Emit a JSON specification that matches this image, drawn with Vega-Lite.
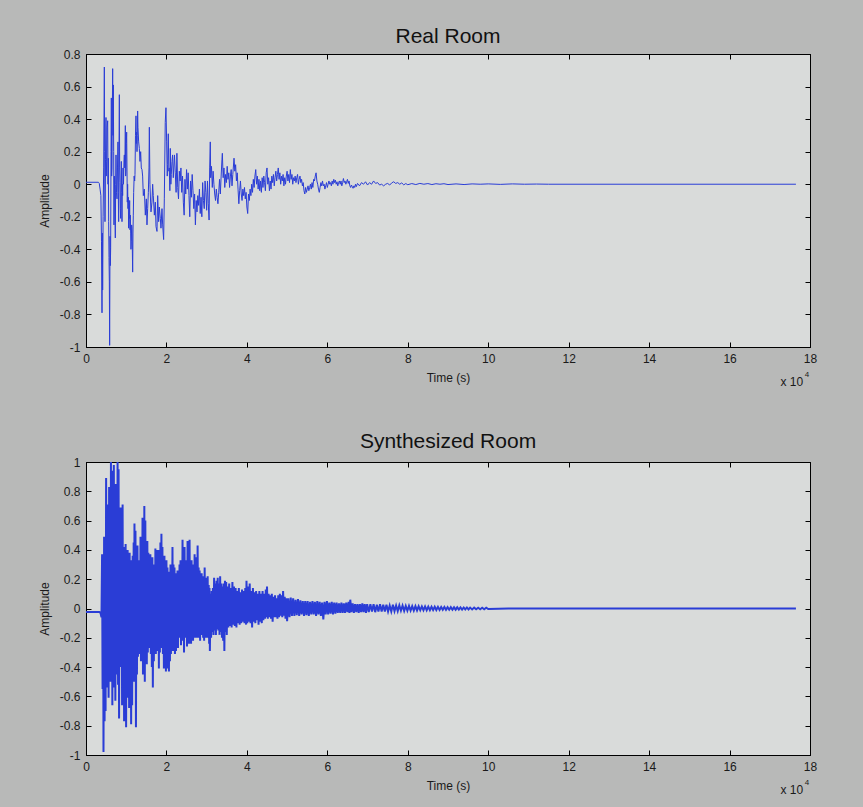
{
"$schema": "https://vega.github.io/schema/vega-lite/v6.json",
"background": "#b8b9b8",
"padding": {"left": 37, "top": 25, "right": 60, "bottom": 30},
"spacing": 115,
"bounds": "flush",
"datasets": {
"real": [
{"t":0,"a":0.012},{"t":0.31,"a":0.012},{"t":0.33,"a":0.005},{"t":0.35,"a":-0.03},{"t":0.37,"a":-0.07},{"t":0.385,"a":-0.35},{"t":0.398,"a":-0.79},{"t":0.406,"a":-0.3},{"t":0.414,"a":-0.65},{"t":0.425,"a":-0.2},{"t":0.439,"a":0.1},{"t":0.456,"a":0.72},{"t":0.464,"a":0.2},{"t":0.472,"a":-0.23},{"t":0.485,"a":0.15},{"t":0.497,"a":0.41},{"t":0.505,"a":0.05},{"t":0.514,"a":0.14},{"t":0.525,"a":0.35},{"t":0.539,"a":0.39},{"t":0.547,"a":0.0},{"t":0.555,"a":0.16},{"t":0.563,"a":-0.23},{"t":0.572,"a":-0.45},{"t":0.58,"a":-0.6},{"t":0.588,"a":-0.99},{"t":0.597,"a":-0.32},{"t":0.605,"a":-0.5},{"t":0.613,"a":-0.39},{"t":0.622,"a":0.2},{"t":0.63,"a":0.53},{"t":0.638,"a":0.05},{"t":0.646,"a":0.1},{"t":0.655,"a":0.45},{"t":0.663,"a":0.71},{"t":0.671,"a":0.3},{"t":0.679,"a":0.61},{"t":0.688,"a":0.2},{"t":0.696,"a":-0.25},{"t":0.704,"a":0.05},{"t":0.713,"a":-0.03},{"t":0.721,"a":-0.2},{"t":0.729,"a":-0.33},{"t":0.737,"a":0.0},{"t":0.746,"a":0.18},{"t":0.758,"a":-0.05},{"t":0.771,"a":-0.09},{"t":0.783,"a":0.1},{"t":0.795,"a":0.26},{"t":0.803,"a":-0.05},{"t":0.812,"a":-0.23},{"t":0.82,"a":0.2},{"t":0.829,"a":0.55},{"t":0.837,"a":0.1},{"t":0.845,"a":0.01},{"t":0.853,"a":-0.15},{"t":0.862,"a":-0.21},{"t":0.87,"a":0.0},{"t":0.878,"a":0.14},{"t":0.887,"a":-0.05},{"t":0.895,"a":-0.23},{"t":0.903,"a":0.0},{"t":0.911,"a":-0.07},{"t":0.92,"a":0.1},{"t":0.932,"a":0.0},{"t":0.945,"a":0.15},{"t":0.953,"a":0.18},{"t":0.965,"a":0.1},{"t":0.978,"a":0.36},{"t":0.986,"a":0.05},{"t":0.994,"a":0.08},{"t":1.003,"a":0.25},{"t":1.011,"a":0.32},{"t":1.019,"a":0.1},{"t":1.027,"a":-0.11},{"t":1.035,"a":0.0},{"t":1.044,"a":-0.15},{"t":1.052,"a":-0.08},{"t":1.06,"a":-0.27},{"t":1.068,"a":-0.2},{"t":1.077,"a":-0.21},{"t":1.085,"a":-0.1},{"t":1.094,"a":-0.28},{"t":1.102,"a":-0.19},{"t":1.11,"a":-0.3},{"t":1.118,"a":-0.4},{"t":1.127,"a":-0.35},{"t":1.135,"a":-0.25},{"t":1.143,"a":-0.27},{"t":1.152,"a":-0.4},{"t":1.16,"a":-0.54},{"t":1.168,"a":-0.3},{"t":1.176,"a":-0.19},{"t":1.185,"a":-0.05},{"t":1.197,"a":0.05},{"t":1.21,"a":0.02},{"t":1.218,"a":0.06},{"t":1.23,"a":0.3},{"t":1.243,"a":0.42},{"t":1.251,"a":0.25},{"t":1.259,"a":0.32},{"t":1.268,"a":0.2},{"t":1.276,"a":0.3},{"t":1.284,"a":0.45},{"t":1.292,"a":0.35},{"t":1.309,"a":0.26},{"t":1.326,"a":0.22},{"t":1.342,"a":0.14},{"t":1.359,"a":0.2},{"t":1.375,"a":0.1},{"t":1.392,"a":0.09},{"t":1.408,"a":0.05},{"t":1.425,"a":-0.07},{"t":1.45,"a":-0.03},{"t":1.475,"a":-0.19},{"t":1.5,"a":-0.09},{"t":1.516,"a":-0.25},{"t":1.533,"a":-0.15},{"t":1.55,"a":-0.05},{"t":1.566,"a":0.1},{"t":1.575,"a":0.35},{"t":1.59,"a":0.0},{"t":1.616,"a":-0.17},{"t":1.64,"a":-0.11},{"t":1.657,"a":0.0},{"t":1.673,"a":-0.07},{"t":1.7,"a":-0.19},{"t":1.723,"a":-0.11},{"t":1.74,"a":-0.26},{"t":1.765,"a":-0.29},{"t":1.782,"a":-0.07},{"t":1.806,"a":-0.23},{"t":1.823,"a":-0.14},{"t":1.848,"a":-0.21},{"t":1.864,"a":-0.27},{"t":1.889,"a":-0.15},{"t":1.906,"a":-0.25},{"t":1.93,"a":-0.34},{"t":1.947,"a":-0.09},{"t":1.97,"a":0.38},{"t":1.988,"a":0.47},{"t":2.005,"a":0.26},{"t":2.02,"a":0.05},{"t":2.03,"a":0.12},{"t":2.046,"a":0.31},{"t":2.06,"a":0.08},{"t":2.07,"a":0.1},{"t":2.085,"a":-0.04},{"t":2.096,"a":0.22},{"t":2.11,"a":0.0},{"t":2.12,"a":0.06},{"t":2.137,"a":0.14},{"t":2.153,"a":0.18},{"t":2.17,"a":0.04},{"t":2.2,"a":0.18},{"t":2.22,"a":0.07},{"t":2.24,"a":-0.05},{"t":2.26,"a":0.19},{"t":2.28,"a":-0.02},{"t":2.3,"a":-0.09},{"t":2.32,"a":0.08},{"t":2.34,"a":0.02},{"t":2.36,"a":0.1},{"t":2.38,"a":-0.05},{"t":2.4,"a":0.05},{"t":2.42,"a":-0.11},{"t":2.44,"a":-0.19},{"t":2.46,"a":0.03},{"t":2.48,"a":-0.06},{"t":2.5,"a":0.09},{"t":2.52,"a":-0.03},{"t":2.54,"a":0.07},{"t":2.56,"a":-0.07},{"t":2.58,"a":-0.2},{"t":2.6,"a":0.02},{"t":2.62,"a":-0.08},{"t":2.64,"a":0.06},{"t":2.66,"a":-0.04},{"t":2.68,"a":-0.15},{"t":2.7,"a":-0.06},{"t":2.72,"a":-0.25},{"t":2.74,"a":-0.1},{"t":2.76,"a":-0.17},{"t":2.78,"a":-0.07},{"t":2.8,"a":-0.13},{"t":2.82,"a":-0.03},{"t":2.84,"a":-0.18},{"t":2.86,"a":-0.08},{"t":2.88,"a":-0.2},{"t":2.9,"a":0.01},{"t":2.92,"a":-0.1},{"t":2.94,"a":-0.15},{"t":2.96,"a":0.02},{"t":2.98,"a":-0.05},{"t":3.0,"a":-0.16},{"t":3.02,"a":0.02},{"t":3.04,"a":-0.12},{"t":3.06,"a":-0.22},{"t":3.075,"a":0.1},{"t":3.09,"a":0.26},{"t":3.1,"a":0.04},{"t":3.12,"a":0.11},{"t":3.14,"a":-0.02},{"t":3.16,"a":0.08},{"t":3.18,"a":0.0},{"t":3.2,"a":-0.06},{"t":3.22,"a":-0.1},{"t":3.24,"a":-0.03},{"t":3.26,"a":-0.08},{"t":3.28,"a":-0.12},{"t":3.3,"a":-0.05},{"t":3.32,"a":0.03},{"t":3.34,"a":-0.06},{"t":3.36,"a":0.05},{"t":3.38,"a":0.15},{"t":3.39,"a":0.19},{"t":3.41,"a":0.04},{"t":3.43,"a":0.1},{"t":3.45,"a":-0.02},{"t":3.47,"a":0.06},{"t":3.49,"a":0.01},{"t":3.51,"a":0.11},{"t":3.53,"a":0.03},{"t":3.55,"a":0.07},{"t":3.57,"a":-0.02},{"t":3.59,"a":0.05},{"t":3.61,"a":0.09},{"t":3.63,"a":-0.01},{"t":3.65,"a":0.06},{"t":3.68,"a":0.16},{"t":3.7,"a":0.08},{"t":3.72,"a":0.12},{"t":3.74,"a":0.02},{"t":3.76,"a":0.07},{"t":3.78,"a":-0.03},{"t":3.8,"a":-0.12},{"t":3.82,"a":-0.04},{"t":3.84,"a":0.02},{"t":3.86,"a":-0.06},{"t":3.88,"a":-0.1},{"t":3.9,"a":-0.03},{"t":3.92,"a":-0.07},{"t":3.94,"a":-0.02},{"t":3.96,"a":-0.09},{"t":3.98,"a":-0.05},{"t":4.0,"a":-0.14},{"t":4.02,"a":-0.18},{"t":4.04,"a":-0.06},{"t":4.06,"a":-0.1},{"t":4.08,"a":-0.03},{"t":4.1,"a":-0.07},{"t":4.12,"a":0.0},{"t":4.14,"a":-0.05},{"t":4.16,"a":0.03},{"t":4.18,"a":-0.02},{"t":4.2,"a":0.05},{"t":4.22,"a":0.09},{"t":4.24,"a":0.0},{"t":4.26,"a":0.05},{"t":4.28,"a":-0.03},{"t":4.3,"a":0.03},{"t":4.32,"a":-0.04},{"t":4.34,"a":0.02},{"t":4.36,"a":-0.05},{"t":4.38,"a":0.04},{"t":4.4,"a":-0.02},{"t":4.42,"a":0.05},{"t":4.44,"a":0.01},{"t":4.46,"a":-0.04},{"t":4.48,"a":0.07},{"t":4.5,"a":0.1},{"t":4.52,"a":0.0},{"t":4.54,"a":0.04},{"t":4.56,"a":-0.04},{"t":4.58,"a":0.02},{"t":4.6,"a":-0.03},{"t":4.62,"a":0.05},{"t":4.64,"a":0.01},{"t":4.66,"a":0.06},{"t":4.68,"a":-0.01},{"t":4.7,"a":0.04},{"t":4.72,"a":0.08},{"t":4.74,"a":0.02},{"t":4.76,"a":0.06},{"t":4.78,"a":0.1},{"t":4.8,"a":0.03},{"t":4.82,"a":0.07},{"t":4.84,"a":0.0},{"t":4.86,"a":0.05},{"t":4.88,"a":0.02},{"t":4.9,"a":0.06},{"t":4.92,"a":-0.01},{"t":4.94,"a":0.04},{"t":4.96,"a":0.0},{"t":4.98,"a":0.05},{"t":5.0,"a":0.08},{"t":5.02,"a":0.02},{"t":5.04,"a":0.06},{"t":5.06,"a":0.01},{"t":5.08,"a":0.09},{"t":5.1,"a":0.03},{"t":5.12,"a":0.06},{"t":5.14,"a":0.0},{"t":5.16,"a":0.04},{"t":5.18,"a":0.02},{"t":5.2,"a":0.05},{"t":5.22,"a":0.01},{"t":5.24,"a":0.04},{"t":5.26,"a":0.06},{"t":5.28,"a":0.0},{"t":5.3,"a":0.03},{"t":5.32,"a":0.05},{"t":5.34,"a":0.01},{"t":5.36,"a":0.03},{"t":5.38,"a":-0.01},{"t":5.4,"a":0.01},{"t":5.42,"a":-0.04},{"t":5.44,"a":-0.06},{"t":5.46,"a":-0.02},{"t":5.48,"a":-0.05},{"t":5.5,"a":-0.03},{"t":5.52,"a":-0.01},{"t":5.54,"a":-0.04},{"t":5.56,"a":-0.02},{"t":5.58,"a":0.0},{"t":5.6,"a":-0.03},{"t":5.62,"a":0.01},{"t":5.64,"a":-0.02},{"t":5.66,"a":0.03},{"t":5.68,"a":0.02},{"t":5.7,"a":0.05},{"t":5.72,"a":0.07},{"t":5.74,"a":0.02},{"t":5.76,"a":0.0},{"t":5.78,"a":-0.03},{"t":5.8,"a":-0.05},{"t":5.82,"a":-0.02},{"t":5.84,"a":0.01},{"t":5.86,"a":-0.01},{"t":5.88,"a":0.02},{"t":5.9,"a":-0.01},{"t":5.92,"a":0.0},{"t":5.94,"a":-0.03},{"t":5.96,"a":-0.01},{"t":5.98,"a":0.01},{"t":6.0,"a":-0.02},{"t":6.02,"a":0.0},{"t":6.04,"a":0.02},{"t":6.06,"a":0.0},{"t":6.08,"a":0.01},{"t":6.1,"a":-0.01},{"t":6.12,"a":0.02},{"t":6.14,"a":0.0},{"t":6.16,"a":0.03},{"t":6.18,"a":0.01},{"t":6.2,"a":0.025},{"t":6.22,"a":0.0},{"t":6.24,"a":0.015},{"t":6.26,"a":-0.01},{"t":6.28,"a":0.01},{"t":6.3,"a":0.02},{"t":6.32,"a":0.0},{"t":6.34,"a":0.02},{"t":6.36,"a":-0.01},{"t":6.38,"a":0.01},{"t":6.4,"a":0.035},{"t":6.42,"a":0.01},{"t":6.44,"a":0.02},{"t":6.46,"a":0.0},{"t":6.48,"a":0.015},{"t":6.5,"a":0.03},{"t":6.52,"a":0.005},{"t":6.54,"a":0.02},{"t":6.56,"a":-0.01},{"t":6.58,"a":-0.02},{"t":6.6,"a":-0.005},{"t":6.62,"a":-0.015},{"t":6.64,"a":-0.025},{"t":6.66,"a":-0.01},{"t":6.68,"a":-0.02},{"t":6.7,"a":0.0},{"t":6.72,"a":-0.015},{"t":6.75,"a":0.005},{"t":6.8,"a":-0.01},{"t":6.85,"a":0.01},{"t":6.9,"a":0.0},{"t":6.95,"a":0.015},{"t":7.0,"a":-0.005},{"t":7.05,"a":0.01},{"t":7.1,"a":0.0},{"t":7.15,"a":0.02},{"t":7.2,"a":0.005},{"t":7.25,"a":0.01},{"t":7.3,"a":-0.005},{"t":7.35,"a":0.0},{"t":7.4,"a":-0.01},{"t":7.45,"a":0.0},{"t":7.5,"a":0.005},{"t":7.55,"a":-0.005},{"t":7.6,"a":0.008},{"t":7.65,"a":0.015},{"t":7.7,"a":0.005},{"t":7.75,"a":0.01},{"t":7.8,"a":0.0},{"t":7.85,"a":0.008},{"t":7.9,"a":-0.004},{"t":7.95,"a":0.004},{"t":8.0,"a":-0.003},{"t":8.1,"a":0.004},{"t":8.2,"a":-0.002},{"t":8.3,"a":0.005},{"t":8.4,"a":0.0},{"t":8.5,"a":0.004},{"t":8.6,"a":-0.002},{"t":8.7,"a":0.003},{"t":8.8,"a":0.0},{"t":8.9,"a":0.003},{"t":9.0,"a":-0.002},{"t":9.2,"a":0.002},{"t":9.4,"a":-0.002},{"t":9.6,"a":0.002},{"t":9.8,"a":0.0},{"t":10.0,"a":0.002},{"t":10.3,"a":-0.001},{"t":10.6,"a":0.002},{"t":10.9,"a":0.0},{"t":11.2,"a":0.001},{"t":11.5,"a":0.0},{"t":17.65,"a":0.0}
],
"synth": [
{"t":0,"a":-0.024},{"t":0.33,"a":-0.024},{"t":0.36,"a":-0.03},{"t":0.385,"a":-0.06},{"t":0.4,"a":0.37},{"t":0.412,"a":-0.55},{"t":0.425,"a":0.3},{"t":0.435,"a":-0.98},{"t":0.45,"a":0.49},{"t":0.462,"a":-0.77},{"t":0.475,"a":0.44},{"t":0.487,"a":-0.7},{"t":0.5,"a":0.89},{"t":0.512,"a":-0.42},{"t":0.525,"a":0.71},{"t":0.537,"a":-0.54},{"t":0.55,"a":0.52},{"t":0.562,"a":-0.61},{"t":0.575,"a":0.83},{"t":0.587,"a":-0.38},{"t":0.6,"a":0.68},{"t":0.612,"a":-0.5},{"t":0.62,"a":1.0},{"t":0.63,"a":-0.44},{"t":0.642,"a":0.76},{"t":0.655,"a":-0.66},{"t":0.667,"a":0.94},{"t":0.68,"a":-0.41},{"t":0.692,"a":0.98},{"t":0.705,"a":-0.54},{"t":0.717,"a":0.62},{"t":0.73,"a":-0.63},{"t":0.742,"a":0.85},{"t":0.755,"a":-0.36},{"t":0.767,"a":0.7},{"t":0.777,"a":-0.45},{"t":0.785,"a":1.0},{"t":0.797,"a":-0.52},{"t":0.81,"a":0.95},{"t":0.822,"a":-0.75},{"t":0.835,"a":0.58},{"t":0.847,"a":-0.4},{"t":0.86,"a":0.69},{"t":0.872,"a":-0.36},{"t":0.885,"a":0.5},{"t":0.897,"a":-0.66},{"t":0.91,"a":0.71},{"t":0.922,"a":-0.48},{"t":0.935,"a":0.42},{"t":0.947,"a":-0.77},{"t":0.96,"a":0.35},{"t":0.972,"a":-0.55},{"t":0.985,"a":0.44},{"t":0.997,"a":-0.81},{"t":1.01,"a":0.3},{"t":1.022,"a":-0.61},{"t":1.035,"a":0.4},{"t":1.047,"a":-0.45},{"t":1.06,"a":0.32},{"t":1.072,"a":-0.68},{"t":1.085,"a":0.38},{"t":1.097,"a":-0.5},{"t":1.11,"a":0.33},{"t":1.122,"a":-0.79},{"t":1.135,"a":0.25},{"t":1.147,"a":-0.66},{"t":1.16,"a":0.36},{"t":1.172,"a":-0.42},{"t":1.185,"a":0.45},{"t":1.197,"a":-0.5},{"t":1.205,"a":0.58},{"t":1.217,"a":-0.4},{"t":1.23,"a":0.53},{"t":1.242,"a":-0.81},{"t":1.255,"a":0.35},{"t":1.267,"a":-0.45},{"t":1.28,"a":0.43},{"t":1.292,"a":-0.33},{"t":1.305,"a":0.28},{"t":1.317,"a":-0.31},{"t":1.33,"a":0.33},{"t":1.342,"a":-0.25},{"t":1.355,"a":0.49},{"t":1.367,"a":-0.36},{"t":1.38,"a":0.41},{"t":1.392,"a":-0.3},{"t":1.405,"a":0.62},{"t":1.417,"a":-0.45},{"t":1.43,"a":0.5},{"t":1.442,"a":-0.38},{"t":1.45,"a":0.7},{"t":1.462,"a":-0.5},{"t":1.475,"a":0.6},{"t":1.487,"a":-0.31},{"t":1.5,"a":0.45},{"t":1.512,"a":-0.38},{"t":1.525,"a":0.46},{"t":1.537,"a":-0.3},{"t":1.55,"a":0.38},{"t":1.562,"a":-0.27},{"t":1.575,"a":0.33},{"t":1.587,"a":-0.22},{"t":1.6,"a":0.37},{"t":1.612,"a":-0.31},{"t":1.625,"a":0.3},{"t":1.637,"a":-0.4},{"t":1.65,"a":0.35},{"t":1.662,"a":-0.54},{"t":1.675,"a":0.27},{"t":1.687,"a":-0.36},{"t":1.7,"a":0.3},{"t":1.712,"a":-0.28},{"t":1.725,"a":0.41},{"t":1.737,"a":-0.31},{"t":1.75,"a":0.35},{"t":1.762,"a":-0.24},{"t":1.775,"a":0.4},{"t":1.787,"a":-0.29},{"t":1.8,"a":0.33},{"t":1.812,"a":-0.41},{"t":1.825,"a":0.4},{"t":1.837,"a":-0.3},{"t":1.85,"a":0.45},{"t":1.862,"a":-0.27},{"t":1.875,"a":0.51},{"t":1.887,"a":-0.25},{"t":1.9,"a":0.42},{"t":1.912,"a":-0.31},{"t":1.925,"a":0.32},{"t":1.937,"a":-0.41},{"t":1.95,"a":0.36},{"t":1.962,"a":-0.35},{"t":1.975,"a":0.3},{"t":1.987,"a":-0.43},{"t":2.0,"a":0.33},{"t":2.012,"a":-0.38},{"t":2.025,"a":0.28},{"t":2.037,"a":-0.41},{"t":2.05,"a":0.25},{"t":2.062,"a":-0.43},{"t":2.075,"a":0.21},{"t":2.087,"a":-0.36},{"t":2.1,"a":0.3},{"t":2.112,"a":-0.31},{"t":2.125,"a":0.27},{"t":2.137,"a":-0.26},{"t":2.15,"a":0.42},{"t":2.162,"a":-0.29},{"t":2.175,"a":0.3},{"t":2.187,"a":-0.22},{"t":2.2,"a":0.28},{"t":2.212,"a":-0.31},{"t":2.225,"a":0.19},{"t":2.237,"a":-0.29},{"t":2.25,"a":0.24},{"t":2.262,"a":-0.2},{"t":2.275,"a":0.26},{"t":2.287,"a":-0.27},{"t":2.3,"a":0.22},{"t":2.312,"a":-0.2},{"t":2.325,"a":0.3},{"t":2.337,"a":-0.18},{"t":2.35,"a":0.33},{"t":2.362,"a":-0.25},{"t":2.375,"a":0.28},{"t":2.387,"a":-0.2},{"t":2.4,"a":0.47},{"t":2.412,"a":-0.22},{"t":2.425,"a":0.35},{"t":2.437,"a":-0.3},{"t":2.45,"a":0.42},{"t":2.462,"a":-0.15},{"t":2.475,"a":0.3},{"t":2.487,"a":-0.2},{"t":2.5,"a":0.33},{"t":2.512,"a":-0.26},{"t":2.525,"a":0.46},{"t":2.537,"a":-0.18},{"t":2.55,"a":0.36},{"t":2.562,"a":-0.24},{"t":2.575,"a":0.47},{"t":2.587,"a":-0.2},{"t":2.6,"a":0.3},{"t":2.612,"a":-0.24},{"t":2.625,"a":0.33},{"t":2.637,"a":-0.18},{"t":2.65,"a":0.28},{"t":2.662,"a":-0.22},{"t":2.675,"a":0.3},{"t":2.687,"a":-0.15},{"t":2.7,"a":0.37},{"t":2.712,"a":-0.2},{"t":2.725,"a":0.35},{"t":2.737,"a":-0.17},{"t":2.75,"a":0.3},{"t":2.762,"a":-0.2},{"t":2.775,"a":0.43},{"t":2.787,"a":-0.15},{"t":2.8,"a":0.28},{"t":2.812,"a":-0.2},{"t":2.825,"a":0.26},{"t":2.837,"a":-0.22},{"t":2.85,"a":0.21},{"t":2.862,"a":-0.15},{"t":2.875,"a":0.24},{"t":2.887,"a":-0.18},{"t":2.9,"a":0.19},{"t":2.912,"a":-0.2},{"t":2.925,"a":0.22},{"t":2.937,"a":-0.22},{"t":2.95,"a":0.28},{"t":2.962,"a":-0.16},{"t":2.975,"a":0.21},{"t":2.987,"a":-0.2},{"t":3.0,"a":0.18},{"t":3.012,"a":-0.15},{"t":3.025,"a":0.22},{"t":3.037,"a":-0.2},{"t":3.05,"a":0.16},{"t":3.062,"a":-0.24},{"t":3.07,"a":0.14},{"t":3.08,"a":-0.29},{"t":3.095,"a":0.1},{"t":3.11,"a":-0.2},{"t":3.125,"a":0.12},{"t":3.14,"a":-0.16},{"t":3.155,"a":0.14},{"t":3.17,"a":-0.18},{"t":3.185,"a":0.21},{"t":3.2,"a":-0.15},{"t":3.215,"a":0.17},{"t":3.23,"a":-0.18},{"t":3.245,"a":0.19},{"t":3.26,"a":-0.14},{"t":3.275,"a":0.21},{"t":3.29,"a":-0.15},{"t":3.305,"a":0.17},{"t":3.32,"a":-0.18},{"t":3.335,"a":0.22},{"t":3.35,"a":-0.16},{"t":3.365,"a":0.17},{"t":3.38,"a":-0.2},{"t":3.395,"a":0.15},{"t":3.41,"a":-0.22},{"t":3.425,"a":0.17},{"t":3.44,"a":-0.29},{"t":3.455,"a":0.19},{"t":3.47,"a":-0.16},{"t":3.485,"a":0.18},{"t":3.5,"a":-0.18},{"t":3.52,"a":0.15},{"t":3.54,"a":-0.13},{"t":3.56,"a":0.17},{"t":3.58,"a":-0.12},{"t":3.6,"a":0.14},{"t":3.62,"a":-0.13},{"t":3.64,"a":0.18},{"t":3.66,"a":-0.11},{"t":3.68,"a":0.15},{"t":3.7,"a":-0.12},{"t":3.72,"a":0.14},{"t":3.74,"a":-0.13},{"t":3.76,"a":0.12},{"t":3.78,"a":-0.1},{"t":3.8,"a":0.14},{"t":3.82,"a":-0.11},{"t":3.84,"a":0.11},{"t":3.86,"a":-0.1},{"t":3.88,"a":0.13},{"t":3.9,"a":-0.09},{"t":3.92,"a":0.12},{"t":3.94,"a":-0.1},{"t":3.96,"a":0.14},{"t":3.98,"a":-0.11},{"t":3.99,"a":0.19},{"t":4.01,"a":-0.1},{"t":4.03,"a":0.15},{"t":4.05,"a":-0.09},{"t":4.07,"a":0.17},{"t":4.09,"a":-0.1},{"t":4.11,"a":0.12},{"t":4.13,"a":-0.13},{"t":4.15,"a":0.14},{"t":4.17,"a":-0.09},{"t":4.19,"a":0.11},{"t":4.21,"a":-0.1},{"t":4.23,"a":0.12},{"t":4.25,"a":-0.08},{"t":4.27,"a":0.1},{"t":4.29,"a":-0.11},{"t":4.31,"a":0.12},{"t":4.33,"a":-0.09},{"t":4.35,"a":0.1},{"t":4.37,"a":-0.1},{"t":4.39,"a":0.12},{"t":4.41,"a":-0.08},{"t":4.43,"a":0.1},{"t":4.45,"a":-0.07},{"t":4.47,"a":0.13},{"t":4.49,"a":-0.06},{"t":4.5,"a":0.15},{"t":4.52,"a":-0.07},{"t":4.54,"a":0.1},{"t":4.56,"a":-0.06},{"t":4.58,"a":0.09},{"t":4.6,"a":-0.07},{"t":4.62,"a":0.1},{"t":4.64,"a":-0.09},{"t":4.66,"a":0.08},{"t":4.68,"a":-0.06},{"t":4.7,"a":0.09},{"t":4.72,"a":-0.06},{"t":4.74,"a":0.07},{"t":4.76,"a":-0.07},{"t":4.78,"a":0.09},{"t":4.8,"a":-0.06},{"t":4.82,"a":0.1},{"t":4.84,"a":-0.05},{"t":4.86,"a":0.09},{"t":4.88,"a":-0.06},{"t":4.9,"a":0.12},{"t":4.92,"a":-0.05},{"t":4.94,"a":0.08},{"t":4.96,"a":-0.07},{"t":4.98,"a":0.07},{"t":5.0,"a":-0.086},{"t":5.03,"a":0.07},{"t":5.06,"a":-0.06},{"t":5.09,"a":0.075},{"t":5.12,"a":-0.05},{"t":5.15,"a":0.07},{"t":5.18,"a":-0.05},{"t":5.21,"a":0.06},{"t":5.24,"a":-0.045},{"t":5.27,"a":0.065},{"t":5.3,"a":-0.05},{"t":5.33,"a":0.055},{"t":5.36,"a":-0.04},{"t":5.39,"a":0.05},{"t":5.42,"a":-0.05},{"t":5.45,"a":0.05},{"t":5.48,"a":-0.045},{"t":5.51,"a":0.05},{"t":5.54,"a":-0.05},{"t":5.57,"a":0.045},{"t":5.6,"a":-0.04},{"t":5.63,"a":0.05},{"t":5.66,"a":-0.04},{"t":5.69,"a":0.045},{"t":5.72,"a":-0.05},{"t":5.75,"a":0.05},{"t":5.78,"a":-0.04},{"t":5.81,"a":0.045},{"t":5.84,"a":-0.05},{"t":5.87,"a":0.04},{"t":5.9,"a":-0.074},{"t":5.93,"a":0.045},{"t":5.96,"a":-0.04},{"t":5.99,"a":0.05},{"t":6.02,"a":-0.04},{"t":6.05,"a":0.04},{"t":6.08,"a":-0.035},{"t":6.11,"a":0.045},{"t":6.14,"a":-0.04},{"t":6.17,"a":0.04},{"t":6.2,"a":-0.035},{"t":6.23,"a":0.04},{"t":6.26,"a":-0.03},{"t":6.29,"a":0.035},{"t":6.32,"a":-0.03},{"t":6.35,"a":0.04},{"t":6.38,"a":-0.03},{"t":6.41,"a":0.035},{"t":6.44,"a":-0.03},{"t":6.47,"a":0.04},{"t":6.5,"a":-0.025},{"t":6.53,"a":0.045},{"t":6.55,"a":-0.03},{"t":6.57,"a":0.06},{"t":6.6,"a":-0.025},{"t":6.63,"a":0.035},{"t":6.66,"a":-0.03},{"t":6.69,"a":0.03},{"t":6.72,"a":-0.025},{"t":6.75,"a":0.03},{"t":6.78,"a":-0.03},{"t":6.81,"a":0.03},{"t":6.84,"a":-0.025},{"t":6.87,"a":0.035},{"t":6.9,"a":-0.025},{"t":6.93,"a":0.03},{"t":6.96,"a":-0.03},{"t":6.99,"a":0.03},{"t":7.03,"a":-0.025},{"t":7.07,"a":0.03},{"t":7.11,"a":-0.02},{"t":7.15,"a":0.03},{"t":7.19,"a":-0.025},{"t":7.23,"a":0.025},{"t":7.27,"a":-0.02},{"t":7.31,"a":0.03},{"t":7.35,"a":-0.02},{"t":7.39,"a":0.025},{"t":7.43,"a":-0.02},{"t":7.47,"a":0.025},{"t":7.51,"a":-0.02},{"t":7.55,"a":0.02},{"t":7.59,"a":-0.02},{"t":7.63,"a":0.025},{"t":7.67,"a":-0.018},{"t":7.71,"a":0.02},{"t":7.75,"a":-0.018},{"t":7.79,"a":0.022},{"t":7.83,"a":-0.015},{"t":7.87,"a":0.02},{"t":7.91,"a":-0.016},{"t":7.95,"a":0.018},{"t":7.99,"a":-0.015},{"t":8.03,"a":0.018},{"t":8.07,"a":-0.014},{"t":8.11,"a":0.016},{"t":8.15,"a":-0.014},{"t":8.19,"a":0.016},{"t":8.23,"a":-0.013},{"t":8.27,"a":0.015},{"t":8.31,"a":-0.012},{"t":8.35,"a":0.014},{"t":8.39,"a":-0.012},{"t":8.43,"a":0.014},{"t":8.47,"a":-0.012},{"t":8.51,"a":0.013},{"t":8.55,"a":-0.011},{"t":8.59,"a":0.012},{"t":8.63,"a":-0.01},{"t":8.67,"a":0.012},{"t":8.71,"a":-0.01},{"t":8.75,"a":0.011},{"t":8.79,"a":-0.01},{"t":8.83,"a":0.01},{"t":8.87,"a":-0.009},{"t":8.91,"a":0.01},{"t":8.95,"a":-0.009},{"t":8.99,"a":0.009},{"t":9.03,"a":-0.008},{"t":9.07,"a":0.009},{"t":9.11,"a":-0.008},{"t":9.15,"a":0.008},{"t":9.19,"a":-0.008},{"t":9.23,"a":0.008},{"t":9.27,"a":-0.007},{"t":9.31,"a":0.007},{"t":9.35,"a":-0.007},{"t":9.39,"a":0.007},{"t":9.43,"a":-0.006},{"t":9.47,"a":0.007},{"t":9.51,"a":-0.006},{"t":9.55,"a":0.006},{"t":9.6,"a":-0.006},{"t":9.65,"a":0.006},{"t":9.7,"a":-0.005},{"t":9.75,"a":0.005},{"t":9.8,"a":-0.005},{"t":9.85,"a":0.005},{"t":9.9,"a":-0.005},{"t":9.95,"a":0.005},{"t":10.0,"a":-0.004},{"t":10.5,"a":0.0},{"t":17.65,"a":0.0}
]
},
"vconcat": [
{
"width": 724, "height": 293,
"title": {"text": "Real Room", "offset": 1},
"layer": [
{"data": {"name": "real"},
"mark": {"type": "line", "color": "#2a3dd6", "strokeWidth": 1},
"encoding": {
"x": {"field": "t", "type": "quantitative", "scale": {"domain": [0, 18], "nice": false, "zero": false}, "axis": {"orient": "bottom", "title": "Time (s)", "values": [0,2,4,6,8,10,12,14,16,18]}},
"y": {"field": "a", "type": "quantitative", "scale": {"domain": [-1, 0.8], "nice": false, "zero": false}, "axis": {"orient": "left", "title": "Amplitude", "values": [-1,-0.8,-0.6,-0.4,-0.2,0,0.2,0.4,0.6,0.8], "labelExpr": "replace(format(datum.value, '~g'), '\u2212', '-')"}}
}},
{"data": {"values": [{"s": "x 10"}]},
"mark": {"type": "text", "align": "right", "baseline": "alphabetic", "fontSize": 12, "font": "Liberation Sans", "color": "#1a1a1a"},
"encoding": {
"text": {"field": "s"},
"x": {"datum": 17.83, "type": "quantitative", "scale": {"domain": [0, 18], "nice": false, "zero": false}, "axis": {"orient": "top", "labels": false, "title": null, "values": [0,2,4,6,8,10,12,14,16,18]}},
"y": {"datum": -1.237, "type": "quantitative", "scale": {"domain": [-1, 0.8], "nice": false, "zero": false}, "axis": {"orient": "right", "labels": false, "title": null, "values": [-1,-0.8,-0.6,-0.4,-0.2,0,0.2,0.4,0.6,0.8]}}
}},
{"data": {"values": [{"s": "4"}]},
"mark": {"type": "text", "align": "left", "baseline": "alphabetic", "fontSize": 8, "font": "Liberation Sans", "color": "#1a1a1a"},
"encoding": {
"text": {"field": "s"},
"x": {"datum": 17.87, "type": "quantitative", "scale": {"domain": [0, 18], "nice": false, "zero": false}, "axis": null},
"y": {"datum": -1.184, "type": "quantitative", "scale": {"domain": [-1, 0.8], "nice": false, "zero": false}, "axis": null}
}}
],
"resolve": {"axis": {"x": "independent", "y": "independent"}}
},
{
"width": 724, "height": 293,
"title": {"text": "Synthesized Room", "offset": 4},
"layer": [
{"data": {"name": "synth"},
"mark": {"type": "line", "color": "#2a3dd6", "strokeWidth": 2},
"encoding": {
"x": {"field": "t", "type": "quantitative", "scale": {"domain": [0, 18], "nice": false, "zero": false}, "axis": {"orient": "bottom", "title": "Time (s)", "values": [0,2,4,6,8,10,12,14,16,18]}},
"y": {"field": "a", "type": "quantitative", "scale": {"domain": [-1, 1], "nice": false, "zero": false}, "axis": {"orient": "left", "title": "Amplitude", "values": [-1,-0.8,-0.6,-0.4,-0.2,0,0.2,0.4,0.6,0.8,1], "labelExpr": "replace(format(datum.value, '~g'), '\u2212', '-')"}}
}},
{"data": {"values": [{"s": "x 10"}]},
"mark": {"type": "text", "align": "right", "baseline": "alphabetic", "fontSize": 12, "font": "Liberation Sans", "color": "#1a1a1a"},
"encoding": {
"text": {"field": "s"},
"x": {"datum": 17.83, "type": "quantitative", "scale": {"domain": [0, 18], "nice": false, "zero": false}, "axis": {"orient": "top", "labels": false, "title": null, "values": [0,2,4,6,8,10,12,14,16,18]}},
"y": {"datum": -1.265, "type": "quantitative", "scale": {"domain": [-1, 1], "nice": false, "zero": false}, "axis": {"orient": "right", "labels": false, "title": null, "values": [-1,-0.8,-0.6,-0.4,-0.2,0,0.2,0.4,0.6,0.8,1]}}
}},
{"data": {"values": [{"s": "4"}]},
"mark": {"type": "text", "align": "left", "baseline": "alphabetic", "fontSize": 8, "font": "Liberation Sans", "color": "#1a1a1a"},
"encoding": {
"text": {"field": "s"},
"x": {"datum": 17.87, "type": "quantitative", "scale": {"domain": [0, 18], "nice": false, "zero": false}, "axis": null},
"y": {"datum": -1.204, "type": "quantitative", "scale": {"domain": [-1, 1], "nice": false, "zero": false}, "axis": null}
}}
],
"resolve": {"axis": {"x": "independent", "y": "independent"}}
}
],
"config": {
"view": {"stroke": "#000000", "strokeWidth": 1, "fill": "#d9dbda"},
"axis": {"grid": false, "domainColor": "#000000", "domainWidth": 1, "tickColor": "#000000", "tickWidth": 1, "tickSize": -5, "labelPadding": 11, "labelFlush": false, "labelOverlap": false, "labelBound": false, "labelFont": "Liberation Sans", "labelFontSize": 12, "labelColor": "#1a1a1a", "titleFont": "Liberation Sans", "titleFontSize": 12, "titleFontWeight": "normal", "titleColor": "#1a1a1a", "titlePadding": 8},
"title": {"font": "Liberation Sans", "fontSize": 21, "fontWeight": "normal", "color": "#111111", "anchor": "middle", "frame": "group"}
}
}
